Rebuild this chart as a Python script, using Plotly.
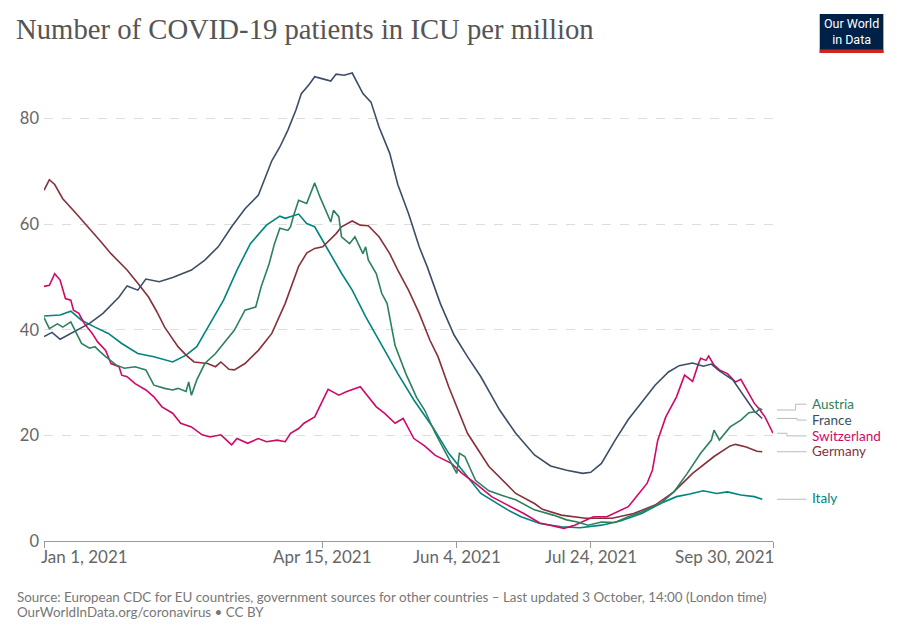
import pandas as pd
import plotly.graph_objects as go

START = pd.Timestamp("2021-01-01")

# ---- data (day offset from 1 Jan 2021, ICU patients per million) ----
germany_days = [0, 2, 4, 7, 12, 17, 21, 25, 31, 35, 39, 42, 45, 50, 53, 56, 61, 64, 66, 69, 71, 75, 80, 85, 90, 95, 98, 101, 104, 109, 111, 115, 118, 121, 125, 129, 132, 136, 140, 144, 147, 151, 158, 166, 176, 183, 186, 193, 202, 212, 220, 228, 235, 242, 250, 256, 258, 262, 266, 268]
germany_vals = [66.4, 68.4, 67.5, 64.8, 62.0, 59.2, 56.8, 54.4, 51.3, 48.8, 46.2, 43.5, 40.5, 36.8, 35.2, 33.9, 33.6, 33.0, 33.9, 32.5, 32.4, 33.6, 36.1, 39.3, 45.0, 52.0, 54.5, 55.4, 55.7, 58.2, 59.5, 60.6, 59.8, 59.7, 57.6, 54.4, 51.3, 47.5, 43.1, 38.0, 34.9, 29.2, 20.4, 14.1, 9.0, 7.1, 6.0, 4.9, 4.3, 4.3, 5.2, 6.8, 9.3, 12.8, 16.0, 18.0, 18.3, 17.8, 17.0, 16.9]

france_days = [0, 3, 6, 10, 17, 22, 28, 31, 35, 38, 43, 48, 55, 60, 65, 70, 75, 80, 83, 85, 88, 91, 94, 96, 99, 101, 104, 107, 109, 112, 115, 119, 122, 125, 129, 132, 136, 140, 143, 148, 153, 158, 163, 170, 176, 183, 189, 195, 201, 204, 208, 213, 218, 223, 228, 233, 237, 242, 246, 249, 252, 257, 261, 265, 268]
france_vals = [38.7, 39.5, 38.2, 39.3, 41.2, 43.1, 46.2, 48.3, 47.5, 49.6, 49.1, 49.9, 51.3, 53.2, 55.7, 59.5, 62.9, 65.5, 69.6, 72.0, 74.6, 77.8, 81.6, 84.7, 86.5, 87.9, 87.5, 87.1, 88.4, 88.2, 88.6, 84.7, 83.1, 78.4, 73.4, 67.5, 62.0, 55.7, 51.9, 44.8, 39.0, 34.9, 31.1, 24.8, 20.4, 16.3, 14.2, 13.4, 12.8, 13.0, 14.7, 19.0, 23.0, 26.3, 29.5, 32.0, 33.2, 33.7, 33.1, 33.5, 32.2, 30.5, 27.6, 24.6, 23.2]

switzerland_days = [0, 2, 4, 6, 8, 10, 11, 13, 15, 18, 20, 23, 25, 28, 29, 31, 34, 38, 41, 44, 48, 51, 55, 59, 62, 66, 70, 72, 76, 80, 83, 87, 90, 92, 95, 97, 101, 106, 110, 113, 118, 121, 124, 127, 131, 134, 138, 142, 146, 152, 156, 161, 167, 173, 179, 185, 190, 194, 198, 202, 205, 210, 214, 218, 221, 225, 227, 229, 232, 236, 239, 242, 244, 245, 247, 248, 250, 252, 255, 258, 260, 263, 265, 267, 269, 272]
switzerland_vals = [48.2, 48.4, 50.6, 49.4, 45.9, 45.6, 43.7, 43.1, 41.2, 39.3, 37.7, 36.1, 33.6, 33.0, 31.4, 31.1, 29.8, 28.6, 27.3, 25.4, 24.2, 22.3, 21.6, 20.1, 19.7, 20.1, 18.2, 19.4, 18.5, 19.4, 18.8, 19.1, 18.8, 20.4, 21.3, 22.3, 23.5, 28.7, 27.6, 28.3, 29.2, 27.3, 25.4, 24.2, 22.3, 23.2, 19.4, 18.0, 16.2, 14.7, 12.8, 10.9, 8.4, 6.8, 5.2, 3.4, 2.8, 2.4, 3.0, 4.0, 4.6, 4.6, 5.5, 6.5, 8.4, 10.9, 13.4, 19.1, 23.5, 27.3, 31.4, 30.2, 33.3, 34.6, 34.2, 35.0, 33.3, 32.4, 31.7, 30.1, 30.6, 27.9, 26.1, 24.9, 23.5, 20.4]

italy_days = [0, 6, 10, 14, 19, 24, 29, 35, 41, 48, 53, 57, 62, 67, 72, 77, 83, 88, 90, 95, 98, 101, 106, 111, 115, 120, 125, 132, 138, 145, 151, 156, 163, 173, 178, 185, 193, 200, 208, 215, 223, 230, 236, 241, 246, 251, 255, 260, 265, 268]
italy_vals = [42.6, 42.8, 43.5, 41.8, 40.5, 39.3, 37.4, 35.5, 34.9, 33.9, 35.2, 36.8, 41.2, 45.6, 51.3, 56.3, 59.8, 61.5, 61.1, 61.9, 60.1, 59.5, 55.1, 50.7, 47.5, 42.5, 38.0, 31.7, 26.7, 21.6, 16.6, 13.4, 9.0, 5.9, 4.6, 3.3, 2.7, 2.5, 3.0, 3.8, 5.2, 7.1, 8.4, 8.9, 9.5, 9.0, 9.3, 8.7, 8.4, 7.9]

austria_days = [0, 2, 5, 7, 10, 12, 14, 17, 19, 21, 23, 27, 30, 34, 38, 41, 45, 48, 50, 53, 54, 55, 57, 60, 64, 67, 71, 75, 79, 81, 84, 86, 88, 91, 92, 93, 95, 98, 101, 103, 105, 107, 108, 110, 111, 114, 116, 117, 119, 120, 121, 124, 126, 128, 130, 131, 135, 139, 142, 146, 150, 154, 155, 157, 161, 166, 171, 176, 183, 190, 195, 199, 203, 208, 213, 218, 223, 230, 235, 240, 245, 249, 250, 252, 256, 260, 263, 266, 267, 268]
austria_vals = [42.3, 40.2, 41.1, 40.5, 41.5, 39.6, 37.4, 36.5, 36.8, 35.8, 34.9, 33.3, 32.7, 33.0, 32.4, 29.5, 28.9, 28.6, 28.9, 28.3, 30.1, 27.6, 30.5, 33.6, 35.5, 37.4, 39.9, 43.7, 44.3, 48.1, 52.5, 56.3, 59.2, 58.8, 59.5, 61.4, 64.5, 63.9, 67.8, 65.1, 62.6, 60.4, 62.6, 61.4, 57.6, 56.3, 57.6, 56.6, 54.4, 55.7, 53.2, 50.6, 46.9, 45.0, 39.3, 37.0, 31.7, 27.2, 24.8, 20.4, 16.6, 12.8, 16.6, 16.0, 11.5, 9.5, 8.6, 7.8, 5.9, 4.9, 4.0, 3.6, 3.0, 3.6, 3.5, 4.6, 5.5, 7.1, 9.3, 12.8, 16.6, 19.1, 21.0, 19.1, 21.6, 22.9, 24.3, 24.5, 25.1, 24.8]

series = [
    ("Italy", italy_days, italy_vals, "#00847E"),
    ("Germany", germany_days, germany_vals, "#883039"),
    ("Switzerland", switzerland_days, switzerland_vals, "#CF0A66"),
    ("France", france_days, france_vals, "#3C4E66"),
    ("Austria", austria_days, austria_vals, "#2C8060"),
]

# label placement (y in data units) for the right-hand labels
label_y = {"Austria": 25.9, "France": 22.9, "Switzerland": 19.9, "Germany": 17.0, "Italy": 8.1}
label_elbow = {"Austria": 1.031, "France": 1.033, "Switzerland": 1.019, "Germany": None, "Italy": None}

x_tick_dates = ["2021-01-01", "2021-04-15", "2021-06-04", "2021-07-24", "2021-09-30"]
x_tick_text = ["Jan 1, 2021", "Apr 15, 2021", "Jun 4, 2021", "Jul 24, 2021", "Sep 30, 2021"]
y_tick_vals = [0, 20, 40, 60, 80]

def to_dates(days):
    return [START + pd.Timedelta(days=d) for d in days]

fig = go.Figure()
for name, d, v, c in series:
    fig.add_trace(go.Scatter(x=to_dates(d), y=v, mode="lines", name=name,
                             line=dict(color=c, width=1.6), showlegend=False))

annotations = []
shapes = []
# right labels + connectors
for name, d, v, c in series:
    end = v[-1]
    ly = label_y[name]
    elbow = label_elbow[name]
    if elbow is None:
        shapes.append(dict(type="line", xref="paper", yref="y", x0=1.0055, x1=1.046,
                           y0=end, y1=end, line=dict(color="#bbbbbb", width=1)))
    else:
        shapes.append(dict(type="path", xref="paper", yref="y",
                           path=f"M 1.0055,{end} L {elbow},{end} L {elbow},{ly} L 1.046,{ly}",
                           line=dict(color="#bbbbbb", width=1)))
    annotations.append(dict(text=name, xref="paper", yref="y", x=1.052, y=ly,
                            xanchor="left", yanchor="middle", showarrow=False, borderpad=0,
                            font=dict(family="Lato", size=13.5, color=c)))

# x tick labels
for i, (dt, txt) in enumerate(zip(x_tick_dates, x_tick_text)):
    anchor = "left" if i == 0 else ("right" if i == len(x_tick_dates) - 1 else "center")
    shift = -5 if i == 0 else (3 if i == len(x_tick_dates) - 1 else 0)
    annotations.append(dict(text=txt, xref="x", yref="paper", x=dt, y=-0.033, xshift=shift,
                            xanchor=anchor, yanchor="middle", showarrow=False,
                            font=dict(family="Lato", size=17, color="#666666")))

# source notes
annotations.append(dict(text="Source: European CDC for EU countries, government sources for other countries – Last updated 3 October, 14:00 (London time)",
                        xref="paper", yref="paper", x=-0.0327, y=-0.119, xshift=-5, xanchor="left", yanchor="middle",
                        showarrow=False, font=dict(family="Lato", size=13.4, color="#777777")))
annotations.append(dict(text="OurWorldInData.org/coronavirus • CC BY",
                        xref="paper", yref="paper", x=-0.0327, y=-0.151, xshift=-5, xanchor="left", yanchor="middle",
                        showarrow=False, font=dict(family="Lato", size=13.4, color="#777777")))

# logo
shapes.append(dict(type="rect", xref="paper", yref="paper", x0=1.0641, x1=1.1514, y0=1.0405, y1=1.1237,
                   fillcolor="#002147", line=dict(width=0)))
shapes.append(dict(type="rect", xref="paper", yref="paper", x0=1.0641, x1=1.1514, y0=1.0405, y1=1.0480,
                   fillcolor="#CE261E", line=dict(width=0)))
annotations.append(dict(text="Our World<br>in Data", xref="paper", yref="paper", x=1.1078, y=1.0868,
                        xanchor="center", yanchor="middle", showarrow=False, align="center",
                        font=dict(family="Roboto", size=12.5, color="white")))

# page body has an 8px offset; figure coordinates are compensated for it
fig.update_layout(
    width=900, height=635,
    margin=dict(l=32, r=135, t=64, b=102),
    paper_bgcolor="white", plot_bgcolor="white",
    title=dict(text="Number of COVID-19 patients in ICU per million", xref="container", yref="container",
               x=8 / 900, y=1 - 21 / 635, xanchor="left", yanchor="middle",
               font=dict(family="Liberation Serif", size=28.7, color="#555555")),
    xaxis=dict(type="date", range=["2021-01-01", "2021-09-30"], tickvals=x_tick_dates,
               showticklabels=False, ticks="outside", ticklen=6, tickcolor="#999999",
               showline=True, linecolor="#999999", linewidth=1, showgrid=False, zeroline=False),
    yaxis=dict(range=[0, 88.8], tickvals=y_tick_vals, showgrid=True, gridcolor="#dddddd",
               griddash="dash", gridwidth=1, zeroline=False, showline=False, ticks="",
               tickfont=dict(family="Lato", size=16.5, color="#666666"), ticklabelstandoff=4),
    annotations=annotations, shapes=shapes,
    hovermode=False,
)

fig.write_html("out.html")
